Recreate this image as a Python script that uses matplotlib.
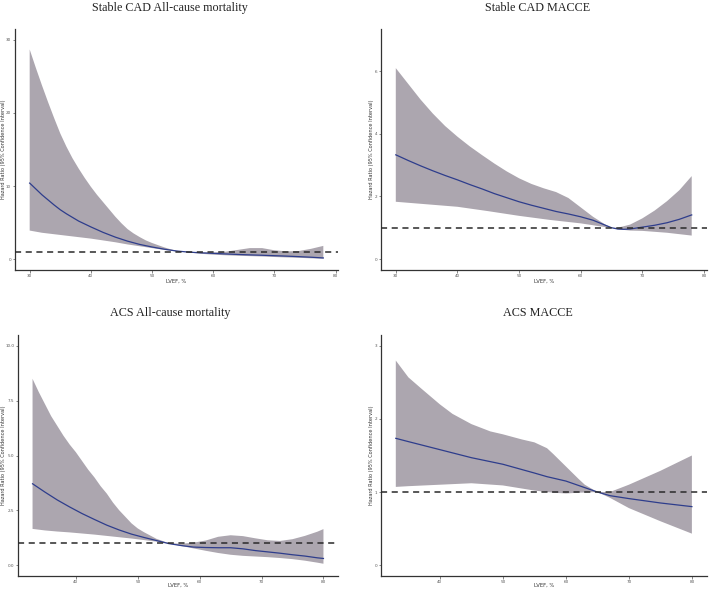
import matplotlib
matplotlib.use("Agg")
import matplotlib.pyplot as plt

# ---------------- data ----------------
# Panel 1: Stable CAD All-cause mortality
p1_hr_x  = [30, 31, 32, 33, 34, 35, 36, 37, 38, 39, 40, 42, 44, 46, 48, 50, 52, 54, 56, 58, 60, 62, 64, 66, 68, 70, 72, 74, 76, 78]
p1_hr    = [10.4, 9.6, 8.8, 8.1, 7.4, 6.75, 6.2, 5.7, 5.2, 4.8, 4.4, 3.65, 3.0, 2.45, 2.0, 1.65, 1.35, 1.1, 0.95, 0.85, 0.78, 0.7, 0.63, 0.57, 0.52, 0.46, 0.4, 0.33, 0.25, 0.15]
p1_up_x  = [30, 31, 32, 33, 34, 35, 36, 37, 38, 39, 40, 41, 42, 43, 44, 45, 46, 47, 48, 49, 50, 51, 52, 53, 54, 55, 56, 58, 60, 62, 64, 66, 68, 70, 72, 74, 76, 78]
p1_upper = [28.7, 26.2, 23.8, 21.5, 19.3, 17.2, 15.4, 13.8, 12.4, 11.1, 9.9, 8.8, 7.8, 6.8, 5.8, 4.9, 4.1, 3.5, 3.0, 2.55, 2.2, 1.9, 1.6, 1.35, 1.15, 1.0, 0.95, 0.9, 0.9, 1.0, 1.25, 1.5, 1.5, 1.2, 1.05, 1.1, 1.4, 1.8]
p1_lo_x  = [30, 32, 34, 36, 38, 40, 42, 44, 46, 48, 50, 52, 54, 56, 58, 60, 62, 64, 66, 68, 70, 72, 74, 76, 78]
p1_lower = [3.9, 3.6, 3.4, 3.2, 3.0, 2.8, 2.55, 2.3, 2.0, 1.75, 1.5, 1.25, 1.05, 0.9, 0.72, 0.6, 0.52, 0.45, 0.4, 0.35, 0.28, 0.22, 0.17, 0.1, 0.05]

# Panel 2: Stable CAD MACCE
p2_hr_x  = [30, 32, 34, 36, 38, 40, 42, 44, 46, 48, 50, 52, 54, 56, 58, 60, 62, 64, 65, 66, 67, 68, 70, 72, 74, 76, 78]
p2_hr    = [3.33, 3.15, 2.98, 2.82, 2.67, 2.53, 2.38, 2.24, 2.09, 1.96, 1.83, 1.72, 1.62, 1.52, 1.44, 1.35, 1.24, 1.08, 1.0, 0.96, 0.95, 0.96, 1.02, 1.08, 1.16, 1.27, 1.41]
p2_up_x  = [30, 32, 34, 36, 38, 40, 42, 44, 46, 48, 50, 52, 54, 56, 58, 60, 62, 64, 65, 66, 68, 70, 72, 74, 76, 78]
p2_upper = [6.1, 5.6, 5.1, 4.65, 4.25, 3.91, 3.6, 3.32, 3.05, 2.8, 2.58, 2.4, 2.26, 2.14, 1.95, 1.65, 1.35, 1.1, 1.0, 1.0, 1.1, 1.3, 1.55, 1.85, 2.2, 2.65]
p2_lo_x  = [30, 35, 40, 45, 50, 55, 60, 62, 64, 65, 66, 68, 70, 74, 78]
p2_lower = [1.83, 1.75, 1.67, 1.53, 1.38, 1.25, 1.14, 1.08, 1.02, 1.0, 0.95, 0.91, 0.9, 0.84, 0.75]

# Panel 3: ACS All-cause mortality
p3_hr_x  = [33, 35, 37, 39, 41, 43, 45, 47, 49, 51, 53, 55, 57, 59, 61, 63, 65, 67, 69, 71, 73, 75, 77, 79, 80]
p3_hr    = [3.71, 3.33, 2.97, 2.65, 2.35, 2.08, 1.82, 1.6, 1.41, 1.26, 1.12, 0.98, 0.89, 0.82, 0.8, 0.79, 0.79, 0.74, 0.66, 0.6, 0.54, 0.47, 0.41, 0.33, 0.3]
p3_up_x  = [33, 34, 35, 36, 37, 38, 39, 40, 41, 42, 43, 44, 45, 46, 47, 48, 49, 50, 51, 52, 53, 54, 55, 57, 59, 61, 63, 65, 67, 69, 71, 73, 75, 77, 79, 80]
p3_upper = [8.5, 7.9, 7.35, 6.8, 6.35, 5.9, 5.5, 5.15, 4.75, 4.35, 4.0, 3.6, 3.26, 2.85, 2.5, 2.2, 1.9, 1.67, 1.5, 1.35, 1.2, 1.1, 1.0, 0.97, 1.02, 1.12, 1.29, 1.36, 1.32, 1.22, 1.13, 1.1, 1.18, 1.33, 1.52, 1.64]
p3_lo_x  = p3_hr_x
p3_lower = [1.65, 1.58, 1.53, 1.49, 1.44, 1.39, 1.33, 1.27, 1.21, 1.14, 1.07, 0.98, 0.87, 0.76, 0.65, 0.55, 0.47, 0.42, 0.39, 0.36, 0.32, 0.27, 0.2, 0.11, 0.06]

# Panel 4: ACS MACCE
p4_hr_x  = [33, 35, 40, 45, 50, 55, 57, 60, 63, 65, 67, 70, 75, 80]
p4_hr    = [1.735, 1.69, 1.58, 1.47, 1.38, 1.26, 1.21, 1.15, 1.06, 1.0, 0.95, 0.91, 0.85, 0.8]
p4_up_x  = [33, 35, 37, 40, 42, 45, 48, 50, 53, 55, 57, 58, 60, 62, 63, 65, 67, 70, 75, 80]
p4_upper = [2.8, 2.57, 2.42, 2.2, 2.07, 1.93, 1.83, 1.79, 1.72, 1.68, 1.6, 1.52, 1.35, 1.18, 1.1, 1.0, 1.0, 1.1, 1.29, 1.5]
p4_lo_x  = [33, 35, 40, 45, 50, 55, 58, 60, 62, 65, 67, 70, 75, 80]
p4_lower = [1.07, 1.08, 1.1, 1.12, 1.09, 1.02, 0.99, 0.98, 0.99, 1.0, 0.92, 0.78, 0.6, 0.43]

titles = ["Stable CAD All-cause mortality", "Stable CAD MACCE",
          "ACS All-cause mortality", "ACS MACCE"]
xlabel = "LVEF, %"
ylabel = "Hazard Ratio (95% Confidence Interval)"

p1_yticks = [0, 10, 20, 30];      p1_ytl = ["0", "10", "20", "30"]
p2_yticks = [0, 2, 4, 6];         p2_ytl = ["0", "2", "4", "6"]
p3_yticks = [0, 2.5, 5, 7.5, 10]; p3_ytl = ["0.0", "2.5", "5.0", "7.5", "10.0"]
p4_yticks = [0, 1, 2, 3];         p4_ytl = ["0", "1", "2", "3"]
top_xticks = [30, 40, 50, 60, 70, 80]
bot_xticks = [40, 50, 60, 70, 80]

# ---------------- figure ----------------
W, H = 709, 590
fig = plt.figure(figsize=(W / 100, H / 100), dpi=100)

def rect(l, r, t, b):
    return [l / W, 1 - b / H, (r - l) / W, (b - t) / H]

panels = [
    dict(rect=rect(15, 338, 29, 270),
         hx=p1_hr_x, hr=p1_hr, ux=p1_up_x, up=p1_upper, lx=p1_lo_x, lo=p1_lower,
         xlim=(27.6, 80.4), ylim=(-1.5, 31.5), yt=p1_yticks, ytl=p1_ytl, xt=top_xticks,
         title_xy=(170, 11), ylab_x=3.5, xlab_y=281),
    dict(rect=rect(381, 706.5, 29, 270),
         hx=p2_hr_x, hr=p2_hr, ux=p2_up_x, up=p2_upper, lx=p2_lo_x, lo=p2_lower,
         xlim=(27.6, 80.4), ylim=(-0.35, 7.35), yt=p2_yticks, ytl=p2_ytl, xt=top_xticks,
         title_xy=(538, 11), ylab_x=371, xlab_y=281),
    dict(rect=rect(18, 338, 335, 576),
         hx=p3_hr_x, hr=p3_hr, ux=p3_up_x, up=p3_upper, lx=p3_lo_x, lo=p3_lower,
         xlim=(30.65, 82.35), ylim=(-0.5, 10.5), yt=p3_yticks, ytl=p3_ytl, xt=bot_xticks,
         title_xy=(170, 316), ylab_x=3.5, xlab_y=585),
    dict(rect=rect(381, 706.7, 335, 576),
         hx=p4_hr_x, hr=p4_hr, ux=p4_up_x, up=p4_upper, lx=p4_lo_x, lo=p4_lower,
         xlim=(30.65, 82.35), ylim=(-0.15, 3.15), yt=p4_yticks, ytl=p4_ytl, xt=bot_xticks,
         title_xy=(538, 316), ylab_x=371, xlab_y=585),
]

ribbon_col = "#aca6af"
line_col = "#2e3d8c"

for p, title in zip(panels, titles):
    ax = fig.add_axes(p["rect"])
    ax.fill(list(p["ux"]) + list(p["lx"])[::-1], list(p["up"]) + list(p["lo"])[::-1],
            color=ribbon_col, lw=0, zorder=1)
    ax.plot(p["hx"], p["hr"], color=line_col, lw=0.9, zorder=2)
    ax.axhline(1, color="#2a2a2a", lw=1.1, ls=(0, (4, 3)), zorder=3)
    ax.set_xlim(*p["xlim"])
    ax.set_ylim(*p["ylim"])
    ax.set_xticks(p["xt"])
    ax.set_xticklabels([str(v) for v in p["xt"]])
    ax.set_yticks(p["yt"])
    ax.set_yticklabels(p["ytl"])
    for s in ["top", "right"]:
        ax.spines[s].set_visible(False)
    for s in ["left", "bottom"]:
        ax.spines[s].set_color("#333333")
        ax.spines[s].set_linewidth(0.9)
    ax.tick_params(axis="both", length=1.8, width=0.5, color="#555555",
                   labelsize=3.0, labelcolor="#555555", pad=1.0)
    ax.set_facecolor("white")
    fig.text(p["title_xy"][0] / W, 1 - p["title_xy"][1] / H, title,
             family="Liberation Serif", fontsize=8.7, ha="center", va="baseline",
             color="#222222")
    cx = p["rect"][0] + p["rect"][2] / 2
    fig.text(cx, 1 - p["xlab_y"] / H, xlabel, fontsize=3.8, ha="center", va="center",
             color="#333333")
    cy = p["rect"][1] + p["rect"][3] / 2
    fig.text(p["ylab_x"] / W, cy, ylabel, fontsize=3.6, rotation=90, ha="center",
             va="center", color="#333333")

fig.savefig("out.png", dpi=100, facecolor="white")
